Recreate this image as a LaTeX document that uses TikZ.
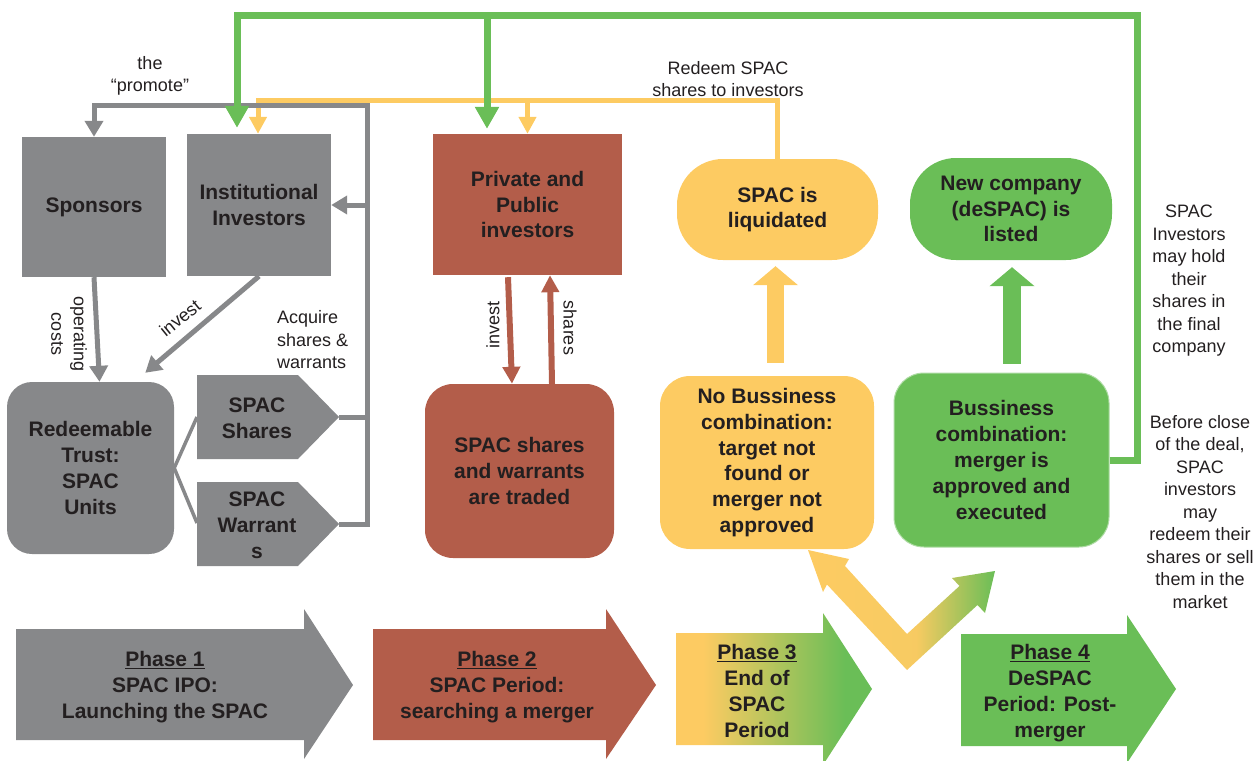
\documentclass[tikz,border=0pt]{standalone}
\usepackage{fontspec}
\setmainfont{Liberation Sans}
\usetikzlibrary{arrows.meta,calc}
\definecolor{cgray}{HTML}{87888A}
\definecolor{cbrown}{HTML}{B35D4A}
\definecolor{cyel}{HTML}{FDCB62}
\definecolor{cgreen}{HTML}{6ABE57}
\definecolor{ctext}{HTML}{231F20}
\pgfdeclarehorizontalshading{vshade}{100bp}{color(0bp)=(cyel); color(25bp)=(cyel); color(54bp)=(cyel!96!cgreen); color(75bp)=(cgreen); color(100bp)=(cgreen)}
\pgfdeclarehorizontalshading{pshade}{100bp}{color(0bp)=(cyel); color(25bp)=(cyel); color(32bp)=(cyel); color(68bp)=(cgreen); color(100bp)=(cgreen)}
\begin{document}
\begin{tikzpicture}[x=1pt,y=-1pt,
  box/.style={inner sep=0pt, align=center, text=ctext, font=\fontsize{21}{25.8}\selectfont\bfseries},
  lbl/.style={inner sep=0pt, align=center, text=ctext, font=\fontsize{18}{22.5}\selectfont},
  gl/.style={draw=cgray, line width=5pt},
  yl/.style={draw=cyel, line width=5pt},
  grl/.style={draw=cgreen, line width=7pt},
  bl/.style={draw=cbrown, line width=6pt},
  gtip/.style={-{Triangle[width=18pt,length=16pt]}},
  ytip/.style={-{Triangle[width=17pt,length=17pt]}},
  grtip/.style={-{Triangle[width=23pt,length=22pt]}},
  btip/.style={-{Triangle[width=17pt,length=17pt]}}
]
\useasboundingbox (0,0) rectangle (1255,760);
\clip (0,0) rectangle (1255,760);

% ---------- nodes ----------
\node[box, fill=cgray, minimum width=144pt, minimum height=140pt] (Spons) at (94,207) {Sponsors};
\node[box, fill=cgray, minimum width=144pt, minimum height=142pt] (Inst) at (259,205) {Institutional\\Investors};
\node[box, fill=cgray, rounded corners=25pt, minimum width=167pt, minimum height=172pt] (Trust) at (90.5,468) {Redeemable\\Trust:\\SPAC\\Units};

\fill[cgray] (197,375) -- (298,375) -- (339,417) -- (298,459) -- (197,459) -- cycle;
\fill[cgray] (197,482) -- (298,482) -- (339,524) -- (298,566) -- (197,566) -- cycle;
\node[box] (Shares) at (257,418) {SPAC\\Shares};
\node[box] (Warr) at (257,525) {SPAC\\Warrant\\s};
\coordinate (shTip) at (339,417);
\coordinate (shL) at (197,417);
\coordinate (wrTip) at (339,524);
\coordinate (wrL) at (197,523);

\node[box, fill=cbrown, minimum width=189pt, minimum height=141pt] (Priv) at (527.5,204.5) {Private and\\Public\\investors};
\node[box, fill=cbrown, rounded corners=28pt, minimum width=189pt, minimum height=174pt] (Traded) at (519.5,471) {SPAC shares\\and warrants\\are traded};

\node[box, fill=cyel, rounded corners=46pt, minimum width=201pt, minimum height=101pt] (Liquid) at (777.5,209.5) {SPAC is\\liquidated};
\node[box, fill=cgreen, rounded corners=46pt, minimum width=202pt, minimum height=102pt] (NewCo) at (1011,209) {New company\\(deSPAC) is\\listed};
\node[box, fill=cyel, rounded corners=30pt, minimum width=214pt, minimum height=173pt] (NoBuss) at (767,462.5) {No Bussiness\\combination:\\target not\\found or\\merger not\\approved};
\node[box, fill=cgreen, draw=cgreen!55!white, line width=1pt, rounded corners=30pt, minimum width=215pt, minimum height=174pt] (Buss) at (1001.5,460) {Bussiness\\combination:\\merger is\\approved and\\executed};

% ---------- phase arrows ----------
\fill[cgray] (16,629) -- (304,629) -- (304,609) -- (353,685) -- (304,759) -- (304,740) -- (16,740) -- cycle;
\fill[cbrown] (373,629) -- (606,629) -- (606,609) -- (656,685) -- (606,759) -- (606,740) -- (373,740) -- cycle;
\shade[shading=pshade] (676,633) -- (823,633) -- (823,613) -- (872,689) -- (823,765) -- (823,745) -- (676,745) -- cycle;
\fill[cgreen] (961,634) -- (1127,634) -- (1127,615) -- (1176,689) -- (1127,763) -- (1127,746) -- (961,746) -- cycle;
\node[box] (Ph1) at (165,687) {\underline{Phase 1}\\SPAC IPO:\\Launching the SPAC};
\node[box] (Ph2) at (497,687) {\underline{Phase 2}\\SPAC Period:\\searching a merger};
\node[box] (Ph3) at (757,691) {\underline{Phase 3}\\End of\\SPAC\\Period};
\node[box] (Ph4) at (1050,693) {\underline{Phase 4}\\DeSPAC\\Period: Post-\\merger};

% ---------- V arrow ----------
\shade[shading=vshade]
  (808,550) -- (849,559) -- (845,566) -- (907,634) -- (959.5,586) -- (952,578) -- (995,571)
  -- (985,613) -- (977.5,605) -- (907,670) -- (827,584.5) -- (823,592) -- cycle;

% ---------- connectors ----------
% yellow
\coordinate (yT) at ($(Inst.north)+(-1,-33)$);
\draw[yl, ytip] (Liquid.north) |- (yT) -- (yT |- Inst.north);
\draw[yl, ytip] (Priv.north |- yT) -- (Priv.north);

% gray
\coordinate (gT) at (367,105);
\draw[gl] (shTip) -- (shTip -| gT);
\draw[gl, gtip] (wrTip) -| (gT) -| (Spons.north);
\draw[gl, gtip] (Inst.east -| gT) -- (Inst.east);
\draw[gl, gtip] (Spons.south) -- ($(Trust.north)+(9,0)$);
\draw[gl, gtip] (Inst.south) -- ($(Trust.north east)+(-29,-9)$);
\draw[draw=cgray, line width=3.5pt] (shL) -- (Trust.east) -- (wrL);

% green
\coordinate (gTR) at (1137,16);
\coordinate (gA) at ($(Inst.north)+(-22,0)$);
\coordinate (gB) at ($(Priv.north)+(-40.5,0)$);
\draw[grl, grtip, shorten >=6pt] (Buss.east) -| (gTR) -| (gA);
\draw[grl, grtip, shorten >=5pt] (gB |- gTR) -- (gB);

% brown
\draw[bl, btip] ($(Priv.south)+(-19.5,2)$) -- ($(Traded.north)+(-7.5,0)$);
\draw[bl, btip] ($(Traded.north)+(32.5,0)$) -- ($(Priv.south)+(22.5,0)$);

% block arrows
\draw[draw=cyel, line width=17pt, -{Triangle[width=44pt,length=19pt]}] ($(NoBuss.north)+(8.5,-13)$) -- ($(Liquid.south)+(-2,6)$);
\draw[draw=cgreen, line width=18pt, -{Triangle[width=44pt,length=19pt]}] ($(Buss.north)+(10.5,-9)$) -- ($(NewCo.south)+(1,7)$);

% ---------- labels ----------
\node[lbl] (promote) at (150,76) {the\\“promote”};
\node[lbl] (redeem) at (728,79) {Redeem SPAC\\shares to investors};
\node[lbl, align=left, anchor=west] (acq) at (277,340) {Acquire\\shares \&\\warrants};
\node[lbl, rotate=-90] (opc) at (69,334) {operating\\costs};
\node[lbl, rotate=39] (inv1) at (180,318) {invest};
\node[lbl, rotate=90] (inv2) at (493,325) {invest};
\node[lbl, rotate=-90] (shr) at (570,328) {shares};
\node[lbl] (hold) at (1189,281) {SPAC\\Investors\\may hold\\their\\shares in\\the final\\company};
\node[lbl] (before) at (1200,512) {Before close\\of the deal,\\SPAC\\investors\\may\\redeem their\\shares or sell\\them in the\\market};
\end{tikzpicture}
\end{document}
